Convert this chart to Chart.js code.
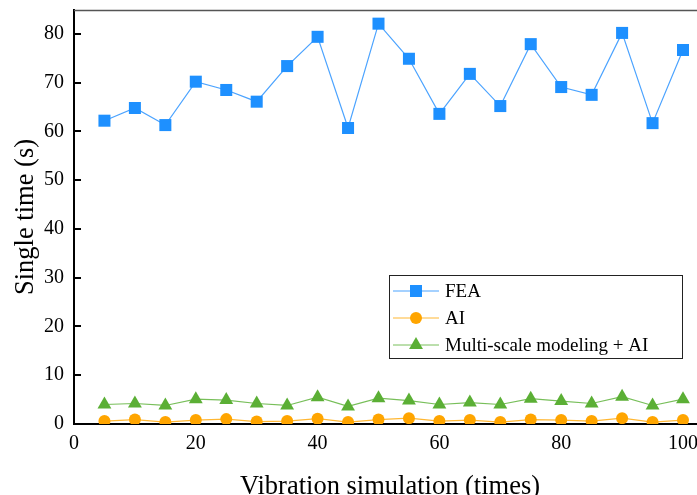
<!DOCTYPE html>
<html>
<head>
<meta charset="utf-8">
<script src="https://cdn.jsdelivr.net/npm/chart.js@4/dist/chart.umd.min.js"></script>
<style>
  html, body { margin: 0; padding: 0; background: #fff; }
  #wrap { width: 697px; height: 495px; }
</style>
</head>
<body>
<div id="wrap"><canvas id="chart" width="697" height="495"></canvas></div>
<script>
// data
const runs = [5, 10, 15, 20, 25, 30, 35, 40, 45, 50, 55, 60, 65, 70, 75, 80, 85, 90, 95, 100];
const feaTimes = [62.2, 64.8, 61.3, 70.2, 68.5, 66.1, 73.4, 79.4, 60.7, 82.1, 74.9, 63.6, 71.8, 65.2, 77.9, 69.1, 67.5, 80.2, 61.7, 76.7];
const aiTimes = [0.6, 0.9, 0.4, 0.8, 1.0, 0.5, 0.6, 1.1, 0.4, 0.9, 1.2, 0.6, 0.8, 0.4, 0.9, 0.8, 0.6, 1.2, 0.4, 0.8];
const multiTimes = [4.0, 4.2, 3.8, 5.1, 4.9, 4.2, 3.8, 5.5, 3.6, 5.3, 4.8, 4.0, 4.4, 4.0, 5.2, 4.7, 4.2, 5.6, 3.8, 5.1];
const xTicks = [0, 20, 40, 60, 80, 100];
const yTicks = [0, 10, 20, 30, 40, 50, 60, 70, 80];
const seriesNames = ['FEA', 'AI', 'Multi-scale modeling + AI'];

const FONT = '"Liberation Serif", "Times New Roman", serif';
const BLUE = '#1E90FF', ORANGE = '#FFA500', GREEN = '#5BAF35';

function toPoints(ys) {
  return runs.map((x, i) => ({ x: x, y: ys[i] }));
}

// no overflow padding for edge tick labels, the plot runs to the canvas edge
function noPadding(s) {
  s.paddingLeft = s.paddingRight = s.paddingTop = s.paddingBottom = 0;
}

const frame = {
  id: 'frame',
  afterDraw(chart) {
    const { ctx, chartArea: a, scales } = chart;
    ctx.save();
    // top border
    ctx.strokeStyle = '#555';
    ctx.lineWidth = 1.5;
    ctx.beginPath();
    ctx.moveTo(a.left, a.top + 0.5);
    ctx.lineTo(a.right, a.top + 0.5);
    ctx.stroke();
    // inward y ticks
    ctx.strokeStyle = '#000';
    ctx.lineWidth = 2;
    yTicks.forEach(v => {
      if (v === 0) return;
      const y = Math.round(scales.y.getPixelForValue(v));
      ctx.beginPath();
      ctx.moveTo(a.left, y);
      ctx.lineTo(a.left + 7, y);
      ctx.stroke();
    });
    // axis titles
    ctx.fillStyle = '#000';
    ctx.font = '26.5px ' + FONT;
    ctx.textAlign = 'center';
    ctx.textBaseline = 'middle';
    ctx.fillText('Vibration simulation (times)', 390, 487);
    ctx.save();
    ctx.translate(26, 217);
    ctx.rotate(-Math.PI / 2);
    ctx.fillText('Single time (s)', 0, 0);
    ctx.restore();

    // legend box
    const lx = 389, ly = 275, lw = 293, lh = 83;
    ctx.fillStyle = '#fff';
    ctx.fillRect(lx, ly, lw, lh);
    ctx.strokeStyle = '#222';
    ctx.lineWidth = 1;
    ctx.strokeRect(lx + 0.5, ly + 0.5, lw, lh);
    const styles = chart.data.datasets;
    ctx.font = '19px ' + FONT;
    ctx.textAlign = 'left';
    styles.forEach((ds, i) => {
      const y = ly + 16 + i * 27;
      ctx.strokeStyle = ds.borderColor;
      ctx.lineWidth = 1;
      ctx.beginPath();
      ctx.moveTo(lx + 4, y);
      ctx.lineTo(lx + 50, y);
      ctx.stroke();
      ctx.fillStyle = ds.pointBackgroundColor;
      Chart.helpers.drawPoint(ctx, {
        pointStyle: ds.pointStyle,
        radius: ds.pointRadius,
        borderWidth: 0
      }, lx + 27, y);
      ctx.fillStyle = '#000';
      ctx.fillText(seriesNames[i], lx + 56, y + 1);
    });
    ctx.restore();
  }
};

new Chart(document.getElementById('chart'), {
  type: 'line',
  data: {
    datasets: [
      {
        label: seriesNames[0], data: toPoints(feaTimes),
        borderColor: '#4BA3FF', backgroundColor: BLUE, pointBackgroundColor: BLUE,
        pointBorderColor: BLUE, pointBorderWidth: 0,
        pointStyle: 'rect', pointRadius: 8.5, borderWidth: 1.2
      },
      {
        label: seriesNames[1], data: toPoints(aiTimes),
        borderColor: '#FFB733', backgroundColor: ORANGE, pointBackgroundColor: ORANGE,
        pointBorderColor: ORANGE, pointBorderWidth: 0,
        pointStyle: 'circle', pointRadius: 6, borderWidth: 1.2
      },
      {
        label: seriesNames[2], data: toPoints(multiTimes),
        borderColor: '#78BF5A', backgroundColor: GREEN, pointBackgroundColor: GREEN,
        pointBorderColor: GREEN, pointBorderWidth: 0,
        pointStyle: 'triangle', pointRadius: 8, borderWidth: 1.2
      }
    ]
  },
  options: {
    responsive: false,
    animation: false,
    layout: { autoPadding: false, padding: { top: 10, right: 0, left: 0, bottom: 0 } },
    plugins: { legend: { display: false }, tooltip: { enabled: false } },
    elements: { line: { tension: 0 } },
    scales: {
      x: {
        type: 'linear', min: 0, max: 102.3,
        afterBuildTicks: s => { s.ticks = xTicks.map(v => ({ value: v })); },
        afterFit: s => { s.height = 71; noPadding(s); },
        grid: { display: false, drawTicks: false },
        border: { display: true, color: '#000', width: 2 },
        ticks: { color: '#000', font: { family: FONT, size: 20 }, padding: 8, maxRotation: 0 }
      },
      y: {
        type: 'linear', min: 0, max: 84.9,
        afterBuildTicks: s => { s.ticks = yTicks.map(v => ({ value: v })); },
        afterFit: s => { s.width = 74; noPadding(s); },
        grid: { display: false, drawTicks: false },
        border: { display: true, color: '#000', width: 2 },
        ticks: { color: '#000', font: { family: FONT, size: 20 }, padding: 10 }
      }
    }
  },
  plugins: [frame]
});
</script>
</body>
</html>
